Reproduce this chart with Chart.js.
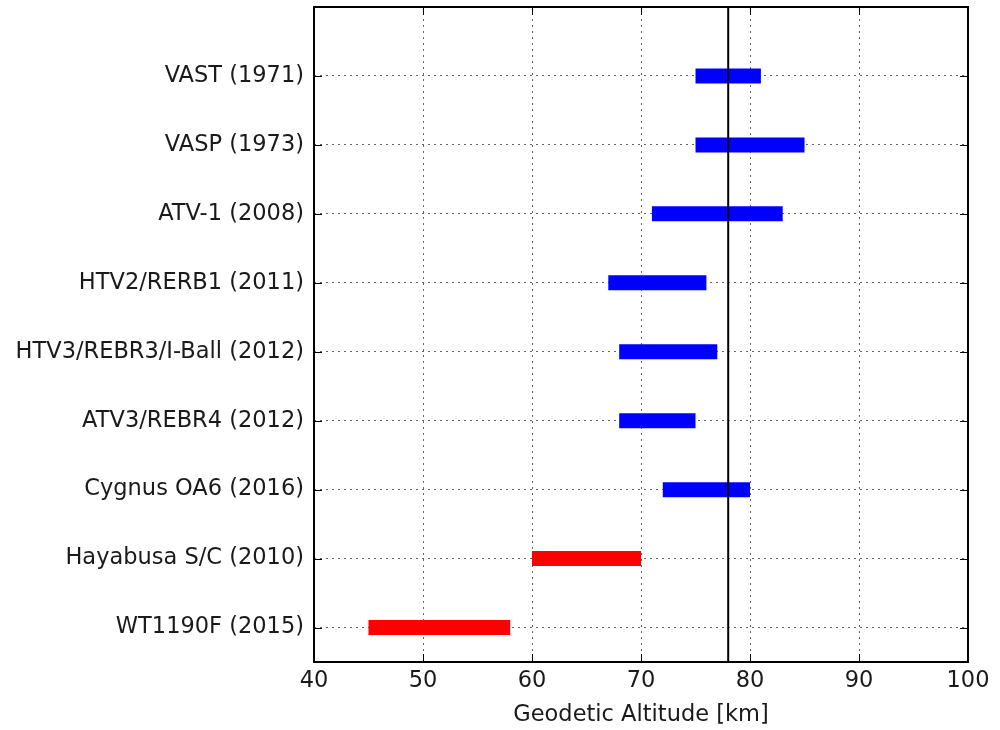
<!DOCTYPE html>
<html>
<head>
<meta charset="utf-8">
<script src="https://cdn.jsdelivr.net/npm/chart.js@4"></script>
<style>
  html, body { margin: 0; padding: 0; background: #fff; }
  #wrap { width: 1000px; height: 730px; }
</style>
</head>
<body>
<div id="wrap"><canvas id="chart" width="1000" height="730"></canvas></div>
<script>
// missions, bottom to top (y = 1 .. 9)
var missions = ["WT1190F (2015)", "Hayabusa S/C (2010)", "Cygnus OA6 (2016)", "ATV3/REBR4 (2012)",
    "HTV3/REBR3/I-Ball (2012)", "HTV2/RERB1 (2011)", "ATV-1 (2008)", "VASP (1973)", "VAST (1971)"];
var altLow = [45, 60, 72, 68, 68, 67, 71, 75, 75];
var altHigh = [58, 70, 80, 75, 77, 76, 83, 85, 81];
var natural = [true, true, false, false, false, false, false, false, false];
var refAltitude = 78;
var xTicks = [40, 50, 60, 70, 80, 90, 100];

var FONT = "'DejaVu Sans', sans-serif";
var TEXT = "#1a1a1a";

var datasets = [];
// reference altitude line, drawn on top
datasets.push({
    data: [{ x: refAltitude, y: 0.5 }, { x: refAltitude, y: 10 }],
    borderColor: "#000000",
    borderWidth: 2,
    showLine: true,
    pointRadius: 0,
    order: 0
});
missions.forEach(function (name, i) {
    datasets.push({
        label: name,
        data: [{ x: altLow[i], y: i + 1 }, { x: altHigh[i], y: i + 1 }],
        borderColor: natural[i] ? "#ff0000" : "#0000ff",
        borderWidth: 15,
        borderCapStyle: "butt",
        showLine: true,
        pointRadius: 0,
        order: 1
    });
});

// frame and inward ticks like the original plot
var framePlugin = {
    id: "frame",
    afterDraw: function (chart) {
        var ctx = chart.ctx;
        var a = chart.chartArea;
        var xs = chart.scales.x, ys = chart.scales.y;
        ctx.save();
        ctx.strokeStyle = "#000";
        ctx.lineWidth = 1;
        xTicks.forEach(function (v) {
            var px = Math.round(xs.getPixelForValue(v)) + 0.5;
            ctx.beginPath();
            ctx.moveTo(px, a.bottom); ctx.lineTo(px, a.bottom - 8);
            ctx.moveTo(px, a.top); ctx.lineTo(px, a.top + 8);
            ctx.stroke();
        });
        missions.forEach(function (m, i) {
            var py = Math.round(ys.getPixelForValue(i + 1)) + 0.5;
            ctx.beginPath();
            ctx.moveTo(a.left, py); ctx.lineTo(a.left + 8, py);
            ctx.moveTo(a.right, py); ctx.lineTo(a.right - 8, py);
            ctx.stroke();
        });
        ctx.lineWidth = 2;
        ctx.strokeRect(a.left, a.top, a.right - a.left, a.bottom - a.top);
        ctx.restore();
    }
};

new Chart(document.getElementById("chart"), {
    type: "scatter",
    data: { datasets: datasets },
    options: {
        responsive: false,
        animation: false,
        layout: { padding: { left: 0, right: 32, top: 7, bottom: 0 } },
        plugins: {
            legend: { display: false },
            tooltip: { enabled: false }
        },
        scales: {
            x: {
                type: "linear",
                min: 40,
                max: 100,
                z: 1,
                afterBuildTicks: function (scale) {
                    scale.ticks = xTicks.map(function (v) { return { value: v }; });
                },
                afterFit: function (scale) { scale.height = 68; },
                border: { display: false, dash: [2, 4] },
                grid: {
                    color: "rgba(0,0,0,0.6)",
                    lineWidth: 1,
                    drawTicks: false
                },
                ticks: {
                    color: TEXT,
                    padding: 6,
                    maxRotation: 0,
                    font: { family: FONT, size: 22.5 }
                },
                title: {
                    display: true,
                    text: "Geodetic Altitude [km]",
                    color: TEXT,
                    padding: { top: 0, bottom: 1 },
                    font: { family: FONT, size: 22.5 }
                }
            },
            y: {
                type: "linear",
                min: 0.5,
                max: 10,
                z: 1,
                afterBuildTicks: function (scale) {
                    scale.ticks = missions.map(function (m, i) { return { value: i + 1 }; });
                },
                afterFit: function (scale) {
                    scale.width = 314;
                    scale.paddingTop = 0;
                    scale.paddingBottom = 0;
                },
                border: { display: false, dash: [2, 4] },
                grid: {
                    color: "rgba(0,0,0,0.6)",
                    lineWidth: 1,
                    drawTicks: false
                },
                ticks: {
                    color: TEXT,
                    padding: 10,
                    font: { family: FONT, size: 22.5 },
                    callback: function (v) { return missions[v - 1]; }
                }
            }
        }
    },
    plugins: [framePlugin]
});
</script>
</body>
</html>
